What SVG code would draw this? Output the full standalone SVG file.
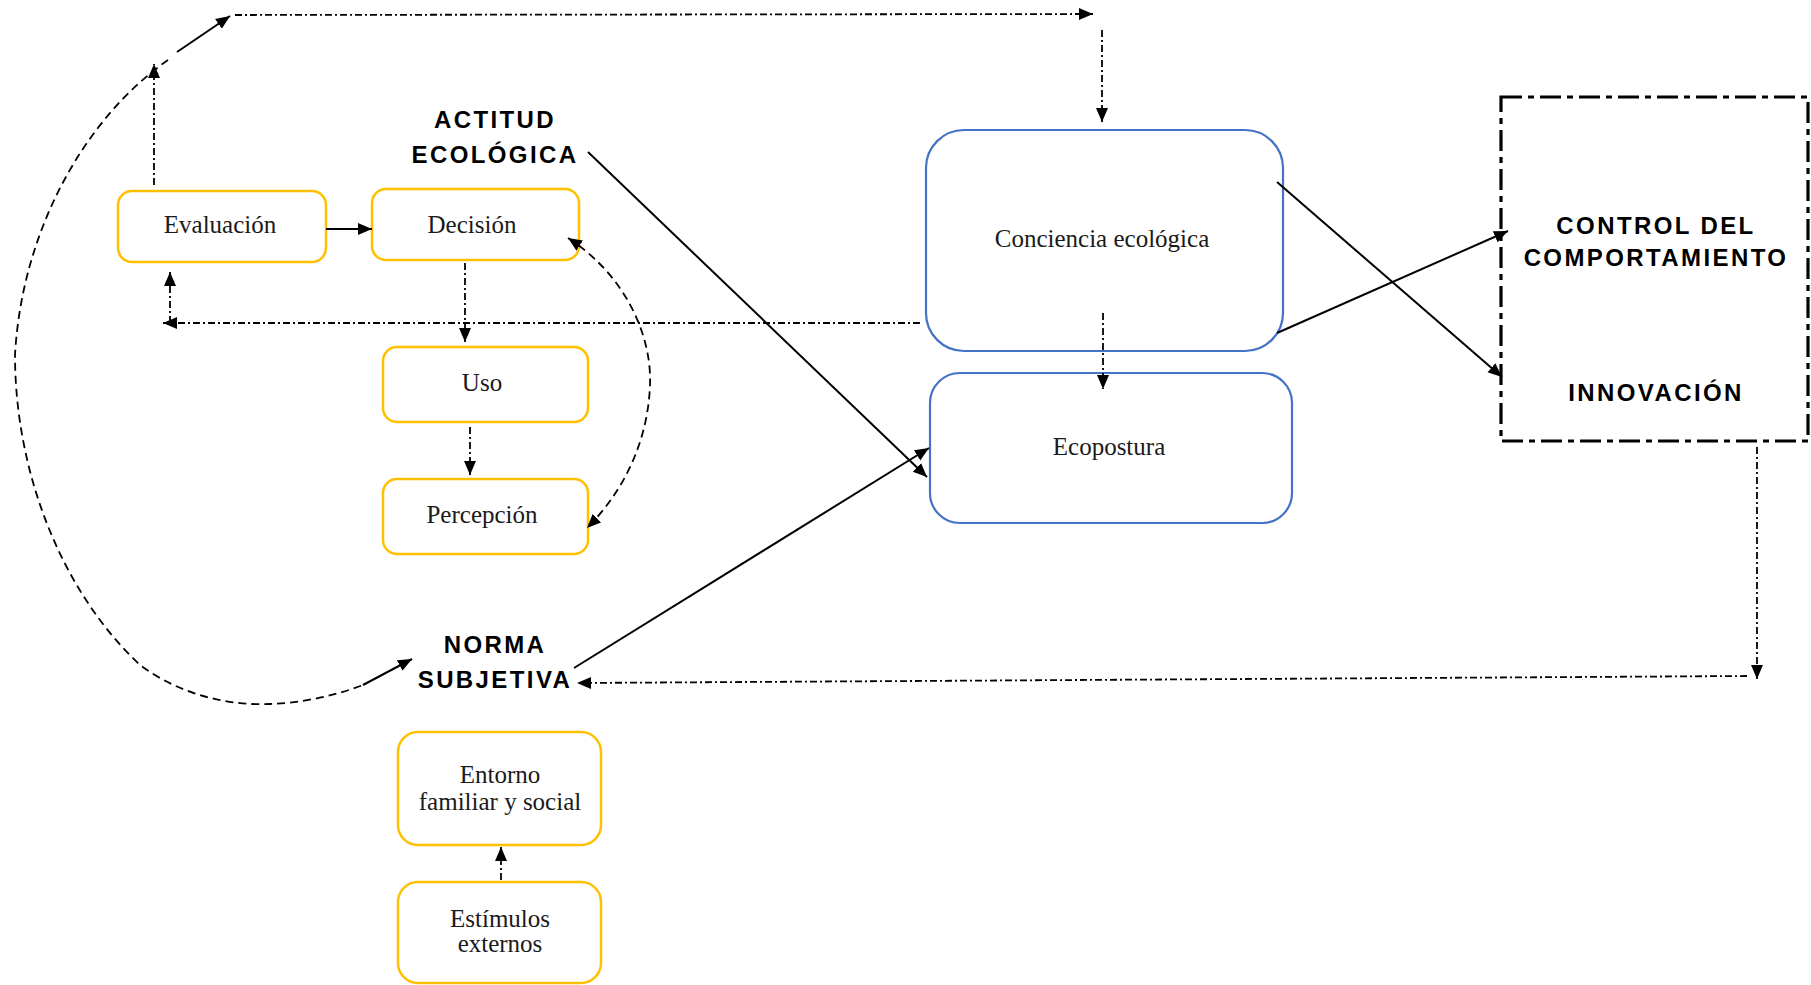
<svg xmlns="http://www.w3.org/2000/svg" width="1811" height="985" viewBox="0 0 1811 985">
<style>
.yb{fill:#fff;stroke:#FFC000;stroke-width:2.5}
.bb{fill:#fff;stroke:#4472C4;stroke-width:2.2}
.t{font-family:"Liberation Serif","Times New Roman",serif;font-size:25px;fill:#1a1a1a;text-anchor:middle}
.h{font-family:"Liberation Sans",Arial,sans-serif;font-size:24px;font-weight:bold;fill:#000;text-anchor:middle;letter-spacing:2.4px}
.s{fill:none;stroke:#000;stroke-width:2}
.dd{fill:none;stroke:#000;stroke-width:1.8;stroke-dasharray:7 3 2 3}
.da{fill:none;stroke:#000;stroke-width:1.8;stroke-dasharray:8 5}
.ctl{fill:#fff;stroke:#000;stroke-width:3.2;stroke-dasharray:21 6 6 6}
</style>
<defs>
<marker id="ar" markerUnits="userSpaceOnUse" markerWidth="16" markerHeight="14" refX="14" refY="6" orient="auto-start-reverse" viewBox="0 0 16 12">
<path d="M0,0 L14,6 L0,12 z" fill="#000"/>
</marker>
</defs>

<g id="evaluacion">
<rect class="yb" x="118" y="191" width="208" height="71" rx="14"/>
<text class="t" x="220" y="233">Evaluación</text>
</g>
<g id="decision">
<rect class="yb" x="372" y="189" width="207" height="71" rx="14"/>
<text class="t" x="472" y="233">Decisión</text>
</g>
<g id="uso">
<rect class="yb" x="383" y="347" width="205" height="75" rx="14"/>
<text class="t" x="482" y="391">Uso</text>
</g>
<g id="percepcion">
<rect class="yb" x="383" y="479" width="205" height="75" rx="14"/>
<text class="t" x="482" y="523">Percepción</text>
</g>
<g id="entorno">
<rect class="yb" x="398" y="732" width="203" height="113" rx="20"/>
<text class="t" x="500" y="783">Entorno</text>
<text class="t" x="500" y="810">familiar y social</text>
</g>
<g id="estimulos">
<rect class="yb" x="398" y="882" width="203" height="101" rx="20"/>
<text class="t" x="500" y="927">Estímulos</text>
<text class="t" x="500" y="952">externos</text>
</g>
<g id="conciencia">
<rect class="bb" x="926" y="130" width="357" height="221" rx="38"/>
<text class="t" x="1102" y="247">Conciencia ecológica</text>
</g>
<g id="ecopostura">
<rect class="bb" x="930" y="373" width="362" height="150" rx="30"/>
<text class="t" x="1109" y="455">Ecopostura</text>
</g>
<g id="actitud">
<text class="h" x="495" y="128">ACTITUD</text>
<text class="h" x="495" y="163">ECOLÓGICA</text>
</g>
<g id="norma">
<text class="h" x="495" y="653">NORMA</text>
<text class="h" x="495" y="688">SUBJETIVA</text>
</g>
<g id="control">
<rect class="ctl" x="1501" y="97" width="307" height="344"/>
<text class="h" x="1656" y="234">CONTROL DEL</text>
<text class="h" x="1656" y="266">COMPORTAMIENTO</text>
<text class="h" x="1656" y="401">INNOVACIÓN</text>
</g>

<g id="connectors">
<line class="s" x1="326" y1="229" x2="372" y2="229" marker-end="url(#ar)"/>
<line class="dd" x1="154" y1="185" x2="154" y2="64" marker-end="url(#ar)"/>
<path class="da" d="M168,60 C85,118 22,230 15,355 C15,470 60,590 140,665 C180,695 230,706 270,704 C300,703 335,696 363,685"/>
<line class="s" x1="177" y1="52" x2="230" y2="16" marker-end="url(#ar)"/>
<line class="s" x1="363" y1="685" x2="412" y2="659" marker-end="url(#ar)"/>
<line class="dd" x1="235" y1="15" x2="1093" y2="14" marker-end="url(#ar)"/>
<line class="dd" x1="1102" y1="30" x2="1102" y2="122" marker-end="url(#ar)"/>
<line class="dd" x1="920" y1="323" x2="163" y2="323" marker-end="url(#ar)"/>
<line class="dd" x1="170" y1="323" x2="170" y2="272" marker-end="url(#ar)"/>
<line class="dd" x1="465" y1="263" x2="465" y2="342" marker-end="url(#ar)"/>
<line class="dd" x1="470" y1="427" x2="470" y2="475" marker-end="url(#ar)"/>
<path class="da" d="M568,238 C625,275 652,335 650,385 C648,440 625,490 587,528" marker-start="url(#ar)" marker-end="url(#ar)"/>
<line class="s" x1="588" y1="152" x2="927" y2="477" marker-end="url(#ar)"/>
<line class="s" x1="574" y1="668" x2="929" y2="448" marker-end="url(#ar)"/>
<line class="dd" x1="1103" y1="313" x2="1103" y2="389" marker-end="url(#ar)"/>
<line class="s" x1="1277" y1="182" x2="1502" y2="377" marker-end="url(#ar)"/>
<line class="s" x1="1277" y1="333" x2="1508" y2="231" marker-end="url(#ar)"/>
<line class="dd" x1="1757" y1="447" x2="1757" y2="679" marker-end="url(#ar)"/>
<line class="dd" x1="1747" y1="676" x2="577" y2="683" marker-end="url(#ar)"/>
<line class="dd" x1="501" y1="880" x2="501" y2="847" marker-end="url(#ar)"/>
</g>
</svg>
